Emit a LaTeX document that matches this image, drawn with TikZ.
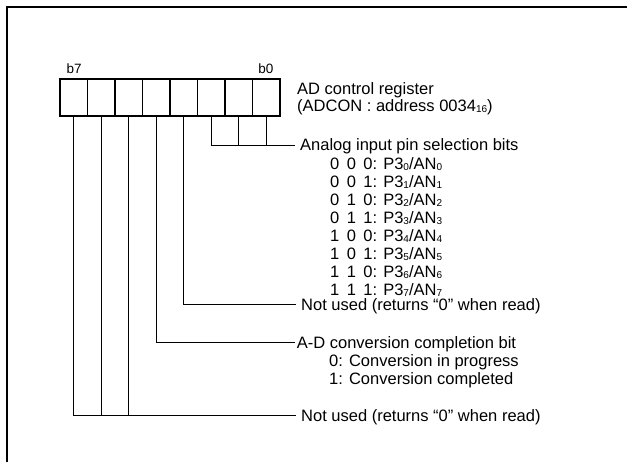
\documentclass[tikz,border=0pt]{standalone}
\usepackage{fontspec}
\setmainfont{Liberation Sans}
\newcommand{\lowidx}[1]{\raisebox{-0.8pt}{\fontsize{10}{10}\selectfont #1}}
\tikzset{
  dcell/.style={draw, line width=1.2pt, minimum width=27.5pt, minimum height=37pt, inner sep=0pt, outer sep=0pt},
  dbit/.style={font=\fontsize{13.5}{14}\selectfont, inner sep=0pt},
  dtext/.style={anchor=base west, inner xsep=0pt, inner ysep=0pt, text height=11.8pt, text depth=0pt, font=\fontsize{16.5}{18}\selectfont},
  dlead/.style={dtext, inner xsep=5pt},
  dwire/.style={line width=1pt},
  dframe/.style={line width=2pt}
}

\begin{document}
\begin{tikzpicture}[x=1pt,y=-1pt]
\useasboundingbox (0,0) rectangle (627,462);
\draw[dframe] (7,462) -- (7,7) -- (627,7);

% register cells, b7 on the left
\node[dcell] (b7) at (73.75,97.5) {};
\node[dcell] (b6) at (101.25,97.5) {};
\node[dcell] (b5) at (128.75,97.5) {};
\node[dcell] (b4) at (156.25,97.5) {};
\node[dcell] (b3) at (183.75,97.5) {};
\node[dcell] (b2) at (211.25,97.5) {};
\node[dcell] (b1) at (238.75,97.5) {};
\node[dcell] (b0) at (266.25,97.5) {};
\node[dbit, anchor=base west] (lblb7) at (66.5,74) {b7};
\node[dbit, anchor=base east] (lblb0) at (273.5,74) {b0};

\node[dtext] (regname) at (297,95) {AD control register};
\node[dtext] (regaddr) at (297,112) {(ADCON : address 0034\lowidx{16})};

% analog input pin selection
\node[dlead] (anasel) at (295,151) {Analog input pin selection bits};
\node[dtext] (ana0) at (330,169.5) {0\hspace{0.45em}0\hspace{0.45em}0: P3\lowidx{0}/AN\lowidx{0}};
\node[dtext] (ana1) at (330,187.5) {0\hspace{0.45em}0\hspace{0.45em}1: P3\lowidx{1}/AN\lowidx{1}};
\node[dtext] (ana2) at (330,205.5) {0\hspace{0.45em}1\hspace{0.45em}0: P3\lowidx{2}/AN\lowidx{2}};
\node[dtext] (ana3) at (330,223.5) {0\hspace{0.45em}1\hspace{0.45em}1: P3\lowidx{3}/AN\lowidx{3}};
\node[dtext] (ana4) at (330,241.5) {1\hspace{0.45em}0\hspace{0.45em}0: P3\lowidx{4}/AN\lowidx{4}};
\node[dtext] (ana5) at (330,259.5) {1\hspace{0.45em}0\hspace{0.45em}1: P3\lowidx{5}/AN\lowidx{5}};
\node[dtext] (ana6) at (330,277.5) {1\hspace{0.45em}1\hspace{0.45em}0: P3\lowidx{6}/AN\lowidx{6}};
\node[dtext] (ana7) at (330,295.5) {1\hspace{0.45em}1\hspace{0.45em}1: P3\lowidx{7}/AN\lowidx{7}};

\node[dlead] (unused3) at (296,310.5) {Not used (returns \textquotedblleft 0\textquotedblright\ when read)};

% conversion flag
\node[dlead, inner xsep=1.7pt] (adflag) at (295,348.5) {A-D conversion completion bit};
\node[dtext] (adflag0) at (329,367) {0: Conversion in progress};
\node[dtext] (adflag1) at (329,385) {1: Conversion completed};

\node[dlead] (unused7) at (296,421.5) {Not used (returns \textquotedblleft 0\textquotedblright\ when read)};

\draw[dwire] (b0.south) |- (anasel.west);
\draw[dwire] (b1.south) |- (anasel.west);
\draw[dwire] (b2.south) |- (anasel.west);
\draw[dwire] (b3.south) |- (unused3.west);
\draw[dwire] (b4.south) |- (adflag.west);
\draw[dwire] (b5.south) |- (unused7.west);
\draw[dwire] (b6.south) |- (unused7.west);
\draw[dwire] (b7.south) |- (unused7.west);
\end{tikzpicture}
\end{document}
